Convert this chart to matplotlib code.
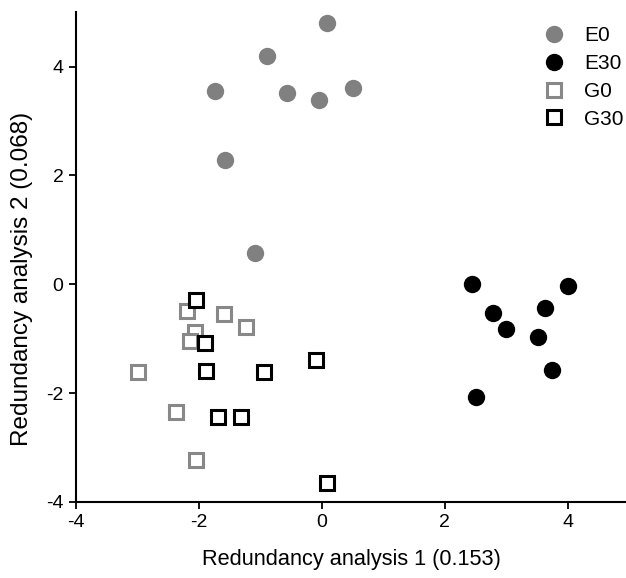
import matplotlib
matplotlib.use("Agg")
import matplotlib.pyplot as plt

plt.rcParams['font.family'] = ['Liberation Sans', 'DejaVu Sans']
plt.rcParams['axes.unicode_minus'] = False

# redundancy analysis scores
e0_x = [-1.73, -0.89, -0.57, -0.04, -1.57, -1.09, 0.09, 0.50]
e0_y = [3.56, 4.20, 3.51, 3.38, 2.28, 0.58, 4.80, 3.60]

e30_x = [2.44, 4.00, 2.78, 3.63, 3.00, 3.51, 3.74, 2.51]
e30_y = [0.00, -0.04, -0.52, -0.44, -0.83, -0.96, -1.58, -2.08]

g0_x = [-2.19, -1.59, -1.23, -2.06, -2.15, -2.99, -2.38, -2.04]
g0_y = [-0.49, -0.55, -0.79, -0.87, -1.05, -1.62, -2.34, -3.22]

g30_x = [-2.04, -1.90, -1.89, -0.94, -0.10, -1.69, -1.32, 0.09]
g30_y = [-0.29, -1.07, -1.59, -1.61, -1.39, -2.43, -2.43, -3.66]

grey = '#808080'

fig = plt.figure(figsize=(6.26, 5.78), dpi=100)
ax = fig.add_axes([0.1214, 0.1315, 0.8786, 0.8475])

ax.plot(e0_x, e0_y, 'o', ms=12.5, color=grey, mec='none', label='E0')
ax.plot(e30_x, e30_y, 'o', ms=12.5, color='black', mec='none', label='E30')
ax.plot(g0_x, g0_y, 's', ms=9.5, mfc='white', mec='#888888', mew=2.2, label='G0')
ax.plot(g30_x, g30_y, 's', ms=9.5, mfc='white', mec='black', mew=2.2, label='G30')

ax.set_xlim(-4, 4.95)
ax.set_ylim(-4, 5)
ax.set_xticks([-4, -2, 0, 2, 4])
ax.set_yticks([-4, -2, 0, 2, 4])

for s in ['top', 'right']:
    ax.spines[s].set_visible(False)
for s in ['left', 'bottom']:
    ax.spines[s].set_linewidth(1.5)
ax.tick_params(direction='out', length=5, width=1.3, labelsize=14, pad=4)

ax.set_xlabel('Redundancy analysis 1 (0.153)', fontsize=15.7)
ax.set_ylabel('Redundancy analysis 2 (0.068)', fontsize=17.5)
ax.xaxis.set_label_coords(0.5, -0.096)
ax.yaxis.set_label_coords(-0.078, 0.455)

ax.legend(loc='upper right', bbox_to_anchor=(1.0, 0.975), frameon=False,
          fontsize=15, handletextpad=0.95, labelspacing=0.42, borderaxespad=0.1,
          borderpad=0, handlelength=1.0)

fig.savefig('out.png', dpi=100)
